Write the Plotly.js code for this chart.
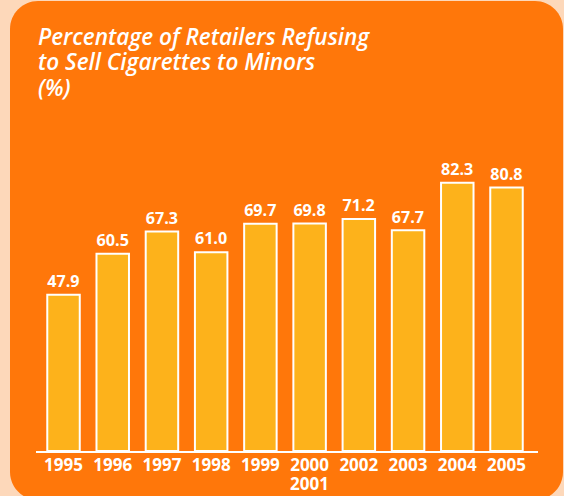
<!DOCTYPE html>
<html>
<head>
<meta charset="utf-8">
<script src="https://cdn.plot.ly/plotly-3.0.1.min.js"></script>
<style>
  html, body { margin: 0; padding: 0; background: #FDD8BA; }
  #chart { width: 564px; height: 496px; }
</style>
</head>
<body>
<div id="chart"></div>
<script>
// Data
var years = ['1995', '1996', '1997', '1998', '1999', '2000<br>2001', '2002', '2003', '2004', '2005'];
var refusalRates = [47.9, 60.5, 67.3, 61.0, 69.7, 69.8, 71.2, 67.7, 82.3, 80.8];
var valueLabels = ['47.9', '60.5', '67.3', '61.0', '69.7', '69.8', '71.2', '67.7', '82.3', '80.8'];
var titleLines = ['Percentage of Retailers Refusing', 'to Sell Cigarettes to Minors', '(%)'];

// Layout geometry (pixels)
var W = 564, H = 496;
var M = {l: 36, r: 26, t: 125, b: 45};
var plotW = W - M.l - M.r, plotH = H - M.t - M.b;
function px(x) { return (x - M.l) / plotW; }
function py(y) { return (H - M.b - y) / plotH; }

// Rounded orange panel path in paper coords
function roundedRect(x0, y0, x1, y1, r) {
  var k = 0.5523 * r;
  function P(x, y) { return px(x).toFixed(5) + ',' + py(y).toFixed(5); }
  return 'M' + P(x0 + r, y0) +
    ' L' + P(x1 - r, y0) +
    ' C' + P(x1 - r + k, y0) + ' ' + P(x1, y0 + r - k) + ' ' + P(x1, y0 + r) +
    ' L' + P(x1, y1 - r) +
    ' C' + P(x1, y1 - r + k) + ' ' + P(x1 - r + k, y1) + ' ' + P(x1 - r, y1) +
    ' L' + P(x0 + r, y1) +
    ' C' + P(x0 + r - k, y1) + ' ' + P(x0, y1 - r + k) + ' ' + P(x0, y1 - r) +
    ' L' + P(x0, y0 + r) +
    ' C' + P(x0, y0 + r - k) + ' ' + P(x0 + r - k, y0) + ' ' + P(x0 + r, y0) + ' Z';
}

var tickFont = {family: 'Open Sans, sans-serif', size: 17, color: '#FFFFFF', weight: 'bold'};

var trace = {
  type: 'bar',
  x: years,
  y: refusalRates,
  text: valueLabels,
  textposition: 'outside',
  cliponaxis: false,
  textfont: tickFont,
  marker: {color: '#FDB21B', line: {color: '#FFFFFF', width: 2}},
  hoverinfo: 'none'
};

// Title lines as annotations (tight line spacing like the reference)
var titleY = [36.5, 61.5, 87.5];
var annotations = titleLines.map(function (t, i) {
  return {
    text: '<i>' + t + '</i>',
    xref: 'paper', yref: 'paper',
    x: px(36), y: py(titleY[i]),
    xanchor: 'left', yanchor: 'middle',
    showarrow: false,
    font: {family: 'Open Sans, sans-serif', size: 22.5, color: '#FFFFFF', weight: 600}
  };
});

// Category tick labels: first line on the axis, any second line just below (tight spacing)
var tickFirst = years.map(function (y) { return y.split('<br>')[0]; });
years.forEach(function (y) {
  var parts = y.split('<br>');
  if (parts.length > 1) {
    annotations.push({
      text: parts.slice(1).join('<br>'),
      xref: 'x', yref: 'paper',
      x: y, y: py(483.5),
      xanchor: 'center', yanchor: 'middle',
      showarrow: false,
      font: tickFont
    });
  }
});

var layout = {
  width: W, height: H,
  margin: M,
  paper_bgcolor: '#FDD8BA',
  plot_bgcolor: 'rgba(0,0,0,0)',
  showlegend: false,
  bargap: 0.34,
  annotations: annotations,
  xaxis: {
    type: 'category',
    range: [-0.559, 9.64],
    tickvals: years, ticktext: tickFirst,
    showline: true, linecolor: '#FFFFFF', linewidth: 2,
    showgrid: false, zeroline: false, ticks: '',
    ticklabelstandoff: -2,
    tickfont: tickFont,
    fixedrange: true
  },
  yaxis: {
    range: [0, 100],
    visible: false, showgrid: false, zeroline: false,
    fixedrange: true
  },
  shapes: [{
    type: 'path', xref: 'paper', yref: 'paper', layer: 'below',
    path: roundedRect(10, 1, 563, 500, 28),
    fillcolor: '#FF770A', line: {width: 0}
  }]
};

Plotly.newPlot('chart', [trace], layout, {displayModeBar: false, staticPlot: true});
</script>
</body>
</html>
